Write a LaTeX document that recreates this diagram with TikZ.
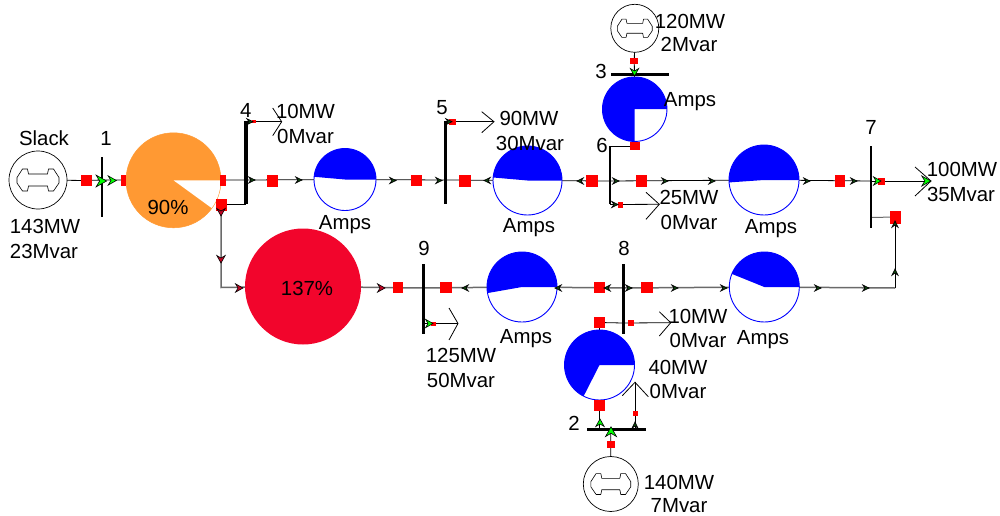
\documentclass[tikz,border=0pt]{standalone}
\usepackage{fontspec}
\setmainfont{Liberation Sans}
\pgfdeclarelayer{wires}
\pgfsetlayers{wires,main}
\definecolor{orangepie}{HTML}{FF9933}
\definecolor{redpie}{HTML}{F2052C}
\definecolor{wiregrey}{HTML}{6A6A6A}
\definecolor{darkarr}{HTML}{0F4A0F}
\tikzset{
  x=1pt,y=-1pt,
  lbl/.style={font=\fontsize{20.4}{20.4}\selectfont,inner sep=0pt,text height=14.3pt,text depth=0pt,anchor=center},
  sq/.style={fill=red,inner sep=0pt,draw=none},
  busbar/.style={fill=black,inner sep=0pt,draw=none},
  gencirc/.style={circle,draw=black,line width=.7pt,fill=white,inner sep=0pt},
  ring/.style={circle,draw=blue,line width=.9pt,fill=white,inner sep=0pt},
  disc/.style={circle,inner sep=0pt,draw=none},
  wire/.style={draw=black,line width=.8pt},
  gwire/.style={draw=wiregrey,line width=1.5pt},
  pics/arr/.style={code={\filldraw[draw=black,line width=.6pt,fill=#1] (4,0) -- (-3.5,-4.2) -- (-1,0) -- (-3.5,4.2) -- cycle;}},
  pics/sarr/.style={code={\filldraw[draw=black,line width=.7pt,fill=darkarr] (3,0) -- (-3.2,-3) -- (-1,0) -- (-3.2,3) -- cycle;}},
  pics/glyph/.style={code={\draw[black,line width=.6pt,line join=round] (-9.5,-6) -- (-10.5,-11) -- (-15.5,-11) -- (-21,-2.5) -- (-21,3) -- (-15.5,11) -- (-10.5,11) -- (-9.5,6) -- (9.5,6) -- (10.5,11) -- (15.5,11) -- (21,3) -- (21,-2.5) -- (15.5,-11) -- (10.5,-11) -- (9.5,-6) -- cycle;}},
}
\newcommand{\bluepie}[3]{\fill[blue] (#1.center) -- ++(0:#3) arc[start angle=0,end angle=-#2,radius=#3] -- cycle;}
\begin{document}
\begin{tikzpicture}
\useasboundingbox (0,0) rectangle (1000,516);
% generators
\node[gencirc,minimum size=58pt] (g1) at (38,180) {};
\pic at (g1.center) {glyph};
\node[gencirc,minimum size=48pt] (g3) at (634.8,28.3) {};
\pic[scale=.83] at (g3.center) {glyph};
\node[gencirc,minimum size=55pt] (g2) at (610.8,484) {};
\pic[scale=.95] at (g2.center) {glyph};
% buses
\node[busbar,minimum width=2pt,minimum height=60pt] (b1) at (102,187) {};
\node[busbar,minimum width=4pt,minimum height=83pt] (b4) at (246,162.5) {};
\node[busbar,minimum width=3.5pt,minimum height=83pt] (b5) at (445.5,162.5) {};
\node[busbar,minimum width=2.5pt,minimum height=58pt] (b6) at (610,174.5) {};
\node[busbar,minimum width=2.5pt,minimum height=82pt] (b7) at (871,187) {};
\node[busbar,minimum width=3pt,minimum height=70pt] (b8) at (623,298.5) {};
\node[busbar,minimum width=3pt,minimum height=70pt] (b9) at (423,298.5) {};
\node[busbar,minimum width=58pt,minimum height=3pt] (b3) at (640,74.5) {};
\node[busbar,minimum width=59pt,minimum height=2.5pt] (b2) at (616.5,429.5) {};
% pies
\node[disc,fill=orangepie,draw=orangepie,line width=.5pt,minimum size=95pt] (p14) at (173.5,180.3) {};
\fill[white] (p14.center) -- ++(0:47.2) arc[start angle=0,end angle=36,radius=47.2] -- cycle;
\node[disc,fill=redpie,minimum size=116pt] (p49) at (303,286.5) {};
\node[ring,minimum size=62pt] (p45) at (345,179.5) {};
\bluepie{p45}{175}{31}
\node[ring,minimum size=69pt] (p56) at (527.5,180.5) {};
\bluepie{p56}{175}{34.5}
\node[ring,minimum size=70pt] (p67) at (764,180) {};
\bluepie{p67}{184}{35}
\node[ring,minimum size=70pt] (p78) at (764.3,287) {};
\bluepie{p78}{158}{35}
\node[ring,minimum size=70pt] (p89) at (522,287) {};
\bluepie{p89}{190}{35}
\node[ring,minimum size=70pt] (p28) at (599.5,365) {};
\bluepie{p28}{243}{35}
\node[ring,minimum size=64.5pt] (p36) at (634.7,109.2) {};
\bluepie{p36}{270}{32.2}
% named junctions and load tips
\coordinate (a1) at (102,180);
\coordinate (a4) at (246,180);
\coordinate (a4b) at (246,204.5);
\coordinate (a5) at (445.5,180);
\coordinate (a6) at (610,181);
\coordinate (a6t) at (610,146);
\coordinate (a6b) at (610,204.5);
\coordinate (a7) at (871,181);
\coordinate (a7b) at (871,217.5);
\coordinate (a8) at (623,288);
\coordinate (a8b) at (623,323);
\coordinate (a9) at (423,288);
\coordinate (a9b) at (423,323.5);
\coordinate (c1) at (221,287.5);
\coordinate (c2) at (895,288);
\coordinate (c3) at (635,429.5);
\coordinate (tl4) at (281.7,121.7);
\coordinate (tl4a) at (272.7,108);
\coordinate (tl4b) at (272.7,135.7);
\coordinate (tl5) at (494,121.7);
\coordinate (tl5a) at (481.7,111.7);
\coordinate (tl5b) at (481.7,132.7);
\coordinate (tl6) at (659.3,204.3);
\coordinate (tl6a) at (646,192.3);
\coordinate (tl6b) at (646,219.3);
\coordinate (tl7) at (931,181);
\coordinate (tl7a) at (915,167);
\coordinate (tl7b) at (915,196);
\coordinate (tl8) at (670.7,322.7);
\coordinate (tl8a) at (659.3,311.7);
\coordinate (tl8b) at (659.3,336);
\coordinate (tl9) at (458,323.5);
\coordinate (tl9a) at (449,308);
\coordinate (tl9b) at (449,340);
\coordinate (tl2) at (635,382.3);
\coordinate (tl2a) at (622.3,395.7);
\coordinate (tl2b) at (648.3,396.7);
\coordinate (a4t) at (246,121.7);
\coordinate (a5t) at (445.5,121.7);
% red squares
\node[sq,minimum width=11pt,minimum height=11pt] (s1) at (86,180.5) {};
\node[sq,minimum width=5pt,minimum height=11pt] (s14l) at (123.5,180.5) {};
\node[sq,minimum width=5.5pt,minimum height=11pt] (s14r) at (223,180.5) {};
\node[sq,minimum width=11pt,minimum height=12pt] (s19) at (221,204.5) {};
\node[sq,minimum width=4.5pt,minimum height=3.5pt] (s4l) at (254,121.7) {};
\node[sq,minimum width=11pt,minimum height=12pt] (s45a) at (272.5,180.5) {};
\node[sq,minimum width=11pt,minimum height=11pt] (s45b) at (416.5,180.5) {};
\node[sq,minimum width=6.5pt,minimum height=6pt] (s5l) at (452.5,121.7) {};
\node[sq,minimum width=12pt,minimum height=12pt] (s56a) at (465,180.5) {};
\node[sq,minimum width=12pt,minimum height=12pt] (s56b) at (592,180.5) {};
\node[sq,minimum width=10pt,minimum height=8pt] (s36) at (634.7,146) {};
\node[sq,minimum width=11pt,minimum height=12pt] (s67a) at (641.5,180.5) {};
\node[sq,minimum width=5pt,minimum height=6pt] (s6l) at (620.5,204.5) {};
\node[sq,minimum width=10pt,minimum height=12pt] (s67b) at (840,181) {};
\node[sq,minimum width=7pt,minimum height=7pt] (s7l) at (881,181) {};
\node[sq,minimum width=11pt,minimum height=13pt] (s78a) at (895,217) {};
\node[sq,minimum width=8pt,minimum height=6.5pt] (s3) at (634.3,61) {};
\node[sq,minimum width=10pt,minimum height=11pt] (s49) at (398,287.5) {};
\node[sq,minimum width=12pt,minimum height=11pt] (s89a) at (445.5,287.5) {};
\node[sq,minimum width=11pt,minimum height=11pt] (s89b) at (599.5,287.5) {};
\node[sq,minimum width=12pt,minimum height=11pt] (s78b) at (646.5,287.5) {};
\node[sq,minimum width=11pt,minimum height=11pt] (s28a) at (599.5,322.5) {};
\node[sq,minimum width=6pt,minimum height=5.5pt] (s8l) at (631,323) {};
\node[sq,minimum width=11pt,minimum height=11pt] (s28b) at (599.5,405.5) {};
\node[sq,minimum width=5pt,minimum height=5pt] (s2l) at (635,413) {};
\node[sq,minimum width=8pt,minimum height=7pt] (s2) at (610.7,444) {};
\node[sq,minimum width=5pt,minimum height=4pt] (s9l) at (433.5,323.5) {};
% connectors (behind everything)
\begin{pgfonlayer}{wires}
\draw[wire] (g1.center) -- (s1.center) -- (a1) -- (p14.center);
\draw[wire] (p14.center) -- (a4) -- (p45.center);
\draw[wire] (s19.center) -- (a4b);
\draw[gwire] (s19.center) -- (c1) -- (p49.center);
\draw[wire] (a4t) -- (tl4);
\draw[wire] (tl4a) -- (tl4) -- (tl4b);
\draw[wire] (p45.center) -- (a5) -- (p56.center);
\draw[wire] (a5t) -- (tl5);
\draw[wire] (tl5a) -- (tl5) -- (tl5b);
\draw[wire] (p56.center) -- (a6);
\draw[wire] (a6) -- (p67.center);
\draw[wire] (a6t) -- (s36.center) -- (p36.center);
\draw[wire] (a6b) -- (tl6);
\draw[wire] (tl6a) -- (tl6) -- (tl6b);
\draw[wire] (p67.center) -- (a7);
\draw[wire] (a7) -- (tl7);
\draw[wire] (tl7a) -- (tl7) -- (tl7b);
\draw[gwire,line width=1pt] (a7b) -- (s78a.center);
\draw[wire] (s78a.center) -- (c2);
\draw[gwire] (c2) -- (p78.center);
\draw[gwire] (p49.center) -- (a9) -- (p89.center);
\draw[gwire] (p89.center) -- (a8) -- (p78.center);
\draw[wire] (a9b) -- (tl9);
\draw[wire] (tl9a) -- (tl9) -- (tl9b);
\draw[wire] (s28a.center) -- (a8b) -- (tl8);
\draw[wire] (tl8a) -- (tl8) -- (tl8b);
\draw[wire] (s28a.center) -- (p28.center) -- (s28b.center) -- (s28b |- b2.center);
\draw[wire] (c3) -- (tl2);
\draw[wire] (tl2a) -- (tl2) -- (tl2b);
\draw[wire] (g3.center) -- (s3.center) -- (p36.center);
\draw[wire] (g2.center) -- (s2.center) -- (s2 |- b2.center);
\end{pgfonlayer}
% flow arrows
\pic[scale=1.4] at (101,181) {arr=green};
\pic[scale=1.1] at (112,180.5) {arr=green};
\pic at (252,180) {sarr};
\pic at (299,180) {sarr};
\pic at (393,180.5) {sarr};
\pic at (439,180.5) {sarr};
\pic[rotate=180] at (487,180.5) {sarr};
\pic[rotate=180] at (580,181) {sarr};
\pic at (616,181) {sarr};
\pic at (665,181) {sarr};
\pic at (712,181) {sarr};
\pic at (807,181) {sarr};
\pic at (854,181) {sarr};
\pic at (877,181) {arr=green};
\pic[scale=1.2] at (926,181) {arr=green};
\pic at (250,121.7) {sarr};
\pic at (449,121.7) {sarr};
\pic at (615,204.5) {sarr};
\pic[rotate=-90] at (221,212) {arr=redpie!80!black};
\pic[rotate=-90] at (221,259) {arr=redpie!80!black};
\pic at (239,288) {arr=redpie!80!black};
\pic at (381,288) {arr=redpie!80!black};
\pic[rotate=180] at (465,288) {sarr};
\pic[rotate=180] at (558,288) {sarr};
\pic[rotate=180] at (607,288) {sarr};
\pic at (629,288) {sarr};
\pic at (675,288) {sarr};
\pic at (724,288) {sarr};
\pic at (818,288) {sarr};
\pic at (866,288) {sarr};
\pic[rotate=90] at (895,224) {sarr};
\pic[rotate=90] at (895,272) {sarr};
\pic at (429,323.5) {arr=green};
\pic[rotate=-90] at (634.5,72) {arr=green};
\pic[rotate=90] at (600,423) {arr=green};
\pic[rotate=90,scale=1.3] at (611,432) {arr=green};
\pic[rotate=90] at (635,425) {sarr};
% labels
\node[lbl] (tslack) at (44,138) {Slack};
\node[lbl] (n1) at (106,138) {1};
\node[lbl] (m1a) at (45,226) {143MW};
\node[lbl] (m1b) at (44,251) {23Mvar};
\node[lbl] (pct1) at (168,207) {90\%};
\node[lbl] (pct2) at (307,288) {137\%};
\node[lbl] (n4) at (245.7,110) {4};
\node[lbl] (m4a) at (305.5,111) {10MW};
\node[lbl] (m4b) at (305.5,136) {0Mvar};
\node[lbl] (amp1) at (345,222) {Amps};
\node[lbl] (n5) at (442,107) {5};
\node[lbl] (m5a) at (529,118) {90MW};
\node[lbl] (m5b) at (530,143) {30Mvar};
\node[lbl] (amp2) at (529,225) {Amps};
\node[lbl] (n3) at (601,71) {3};
\node[lbl] (m3a) at (690,21) {120MW};
\node[lbl] (m3b) at (689,44) {2Mvar};
\node[lbl] (amp3) at (690,99) {Amps};
\node[lbl] (n6) at (602,145) {6};
\node[lbl] (m6a) at (689,197) {25MW};
\node[lbl] (m6b) at (689,222) {0Mvar};
\node[lbl] (amp4) at (771,226) {Amps};
\node[lbl] (n7) at (871,127) {7};
\node[lbl] (m7a) at (962,169) {100MW};
\node[lbl] (m7b) at (961,194) {35Mvar};
\node[lbl] (n9) at (424,248) {9};
\node[lbl] (amp5) at (526,336) {Amps};
\node[lbl] (m9a) at (461,355) {125MW};
\node[lbl] (m9b) at (461,380) {50Mvar};
\node[lbl] (n8) at (624,248) {8};
\node[lbl] (amp6) at (763,337) {Amps};
\node[lbl] (m8a) at (698,316) {10MW};
\node[lbl] (m8b) at (698,340) {0Mvar};
\node[lbl] (m2a) at (678,367) {40MW};
\node[lbl] (m2b) at (678,391) {0Mvar};
\node[lbl] (n2) at (574,423) {2};
\node[lbl] (m2c) at (679,482) {140MW};
\node[lbl] (m2d) at (679,505.5) {7Mvar};
\end{tikzpicture}
\end{document}
